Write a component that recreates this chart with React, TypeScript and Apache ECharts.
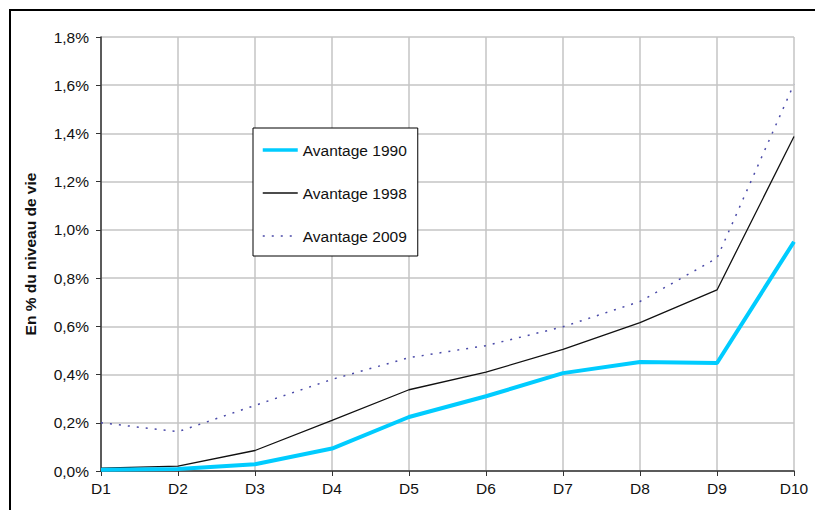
import React, { useEffect, useRef } from "react";
import * as echarts from "echarts";

const categories = ["D1", "D2", "D3", "D4", "D5", "D6", "D7", "D8", "D9", "D10"];
const avantage1990 = [0.005, 0.008, 0.028, 0.093, 0.224, 0.31, 0.406, 0.452, 0.448, 0.951];
const avantage1998 = [0.012, 0.02, 0.085, 0.21, 0.337, 0.41, 0.504, 0.615, 0.751, 1.387];
const avantage2009 = [0.2, 0.163, 0.272, 0.38, 0.47, 0.52, 0.598, 0.703, 0.883, 1.605];
const seriesNames = ["Avantage 1990", "Avantage 1998", "Avantage 2009"];
const yAxisTitle = "En % du niveau de vie";

const FONT = "Arial, 'Liberation Sans', sans-serif";

export default function App() {
  const ref = useRef<HTMLDivElement>(null);
  useEffect(() => {
    if (!ref.current) return;
    const chart = echarts.init(ref.current, null, { renderer: "svg" });
    chart.setOption({
      animation: false,
      backgroundColor: "#ffffff",
      textStyle: { fontFamily: FONT },
      grid: { left: 101, right: 21, top: 37, bottom: 39, containLabel: false },
      graphic: [
        {
          type: "rect",
          shape: { x: 10, y: 10, width: 900, height: 600 },
          style: { fill: "none", stroke: "#000", lineWidth: 2 },
          silent: true,
        },
      ],
      legend: {
        orient: "vertical",
        left: 253,
        top: 128,
        padding: [14, 11, 12, 8],
        itemGap: 27,
        itemWidth: 35,
        itemHeight: 14,
        borderColor: "#000",
        borderWidth: 1,
        backgroundColor: "#fff",
        itemStyle: { color: "rgba(0,0,0,0)", borderColor: "rgba(0,0,0,0)", borderWidth: 0, opacity: 0 },
        textStyle: { fontFamily: FONT, fontSize: 15.5, color: "#111" },
        data: [
          { name: seriesNames[0], lineStyle: { width: 3.5 } },
          { name: seriesNames[1], lineStyle: { width: 1.3 } },
          { name: seriesNames[2], lineStyle: { width: 1.5 } },
        ],
      },
      xAxis: {
        type: "category",
        data: categories,
        boundaryGap: false,
        axisLine: { lineStyle: { color: "#333", width: 1.5 } },
        axisTick: { show: true, length: 5, lineStyle: { color: "#333" } },
        axisLabel: { fontFamily: FONT, fontSize: 15.5, color: "#111", margin: 9 },
        splitLine: { show: true, lineStyle: { color: "#c4c4c4", width: 1.5 } },
      },
      yAxis: {
        type: "value",
        min: 0,
        max: 1.8,
        interval: 0.2,
        name: yAxisTitle,
        nameLocation: "middle",
        nameGap: 63,
        nameRotate: 90,
        nameTextStyle: { fontFamily: FONT, fontSize: 15.5, fontWeight: "bold", color: "#111" },
        axisLine: { show: true, lineStyle: { color: "#333", width: 1.5 } },
        axisTick: { show: true, length: 5, lineStyle: { color: "#333" } },
        axisLabel: {
          fontFamily: FONT,
          fontSize: 15.5,
          color: "#111",
          margin: 12,
          formatter: (v: number) => v.toFixed(1).replace(".", ",") + "%",
        },
        splitLine: { show: true, lineStyle: { color: "#c4c4c4", width: 1.5 } },
      },
      series: [
        {
          name: seriesNames[0],
          type: "line",
          data: avantage1990,
          symbol: "none",
          lineStyle: { color: "#00ccff", width: 4 },
          itemStyle: { color: "#00ccff" },
          z: 3,
        },
        {
          name: seriesNames[1],
          type: "line",
          data: avantage1998,
          symbol: "none",
          lineStyle: { color: "#111", width: 1.3 },
          itemStyle: { color: "#111" },
          z: 2,
        },
        {
          name: seriesNames[2],
          type: "line",
          data: avantage2009,
          symbol: "none",
          lineStyle: { color: "#4a4aa8", width: 1.5, type: [2, 7] },
          itemStyle: { color: "#4a4aa8" },
          z: 2,
        },
      ],
    });
    return () => chart.dispose();
  }, []);
  return (
    <div
      ref={ref}
      style={{ position: "fixed", left: 0, top: 0, width: 815, height: 510, background: "#fff" }}
    />
  );
}
